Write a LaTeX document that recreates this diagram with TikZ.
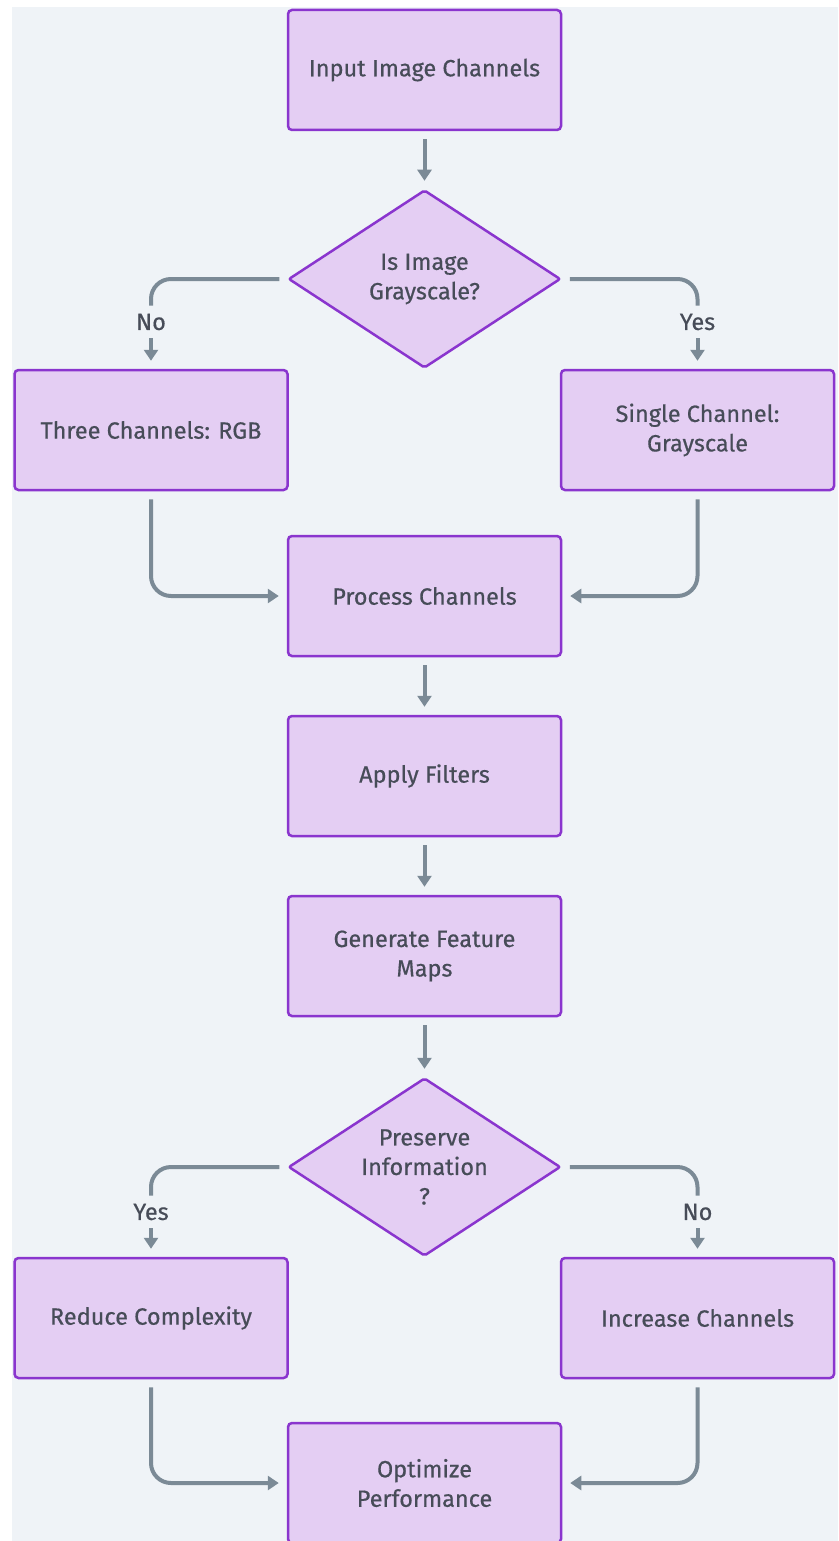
\documentclass[tikz,border=0pt]{standalone}
\usepackage{fontspec}
\setmainfont{Fira Sans}[FakeBold=0.5]
\usetikzlibrary{shapes.geometric,arrows.meta}
\definecolor{bgpanel}{HTML}{EFF3F7}
\definecolor{boxfill}{HTML}{E4CEF3}
\definecolor{boxline}{HTML}{8A35CE}
\definecolor{flowgray}{HTML}{7B8A96}
\definecolor{textgray}{HTML}{474C58}
\begin{document}
\begin{tikzpicture}[x=1pt, y=-1pt,
    every node/.style={font=\fontsize{23.5}{29.5}\selectfont, text=textgray},
    stepbox/.style={draw=boxline, fill=boxfill, line width=2.5pt, rounded corners=4pt,
        minimum width=273pt, minimum height=120pt, align=center, inner sep=0pt},
    choice/.style={diamond, draw=boxline, fill=boxfill, line width=2.5pt, rounded corners=2pt,
        aspect=1.53, minimum width=272pt, minimum height=178pt, align=center, inner sep=0pt},
    flow/.style={draw=flowgray, line width=4pt, rounded corners=20pt,
        -{Triangle[width=14pt,length=11pt]}, shorten <=8pt, shorten >=8pt},
    wire/.style={flow, -},
    answer/.style={inner sep=0pt}]
    \useasboundingbox (0,0) rectangle (838,1541);
    \fill[bgpanel] (12,7) rectangle (838,1541);
    % steps and choices
    \node[stepbox] (input) at (424.5,70) {Input Image Channels};
    \node[choice] (isgray) at (424.5,279) {Is Image\\Grayscale?};
    \node[stepbox] (rgb) at (151,430) {Three Channels: RGB};
    \node[stepbox] (single) at (697.5,430) {Single Channel:\\Grayscale};
    \node[stepbox] (process) at (424.5,596) {Process Channels};
    \node[stepbox] (filters) at (424.5,776) {Apply Filters};
    \node[stepbox] (maps) at (424.5,956) {Generate Feature\\Maps};
    \node[choice] (preserve) at (424.5,1167) {Preserve\\Information\\?};
    \node[stepbox] (reduce) at (151,1318) {Reduce Complexity};
    \node[stepbox] (increase) at (697.5,1318) {Increase Channels};
    \node[stepbox] (optimize) at (424.5,1483) {Optimize\\Performance};
    % branch labels
    \node[answer] (gray-no) at (151,322) {No};
    \node[answer] (gray-yes) at (697.5,322) {Yes};
    \node[answer] (keep-yes) at (151,1212) {Yes};
    \node[answer] (keep-no) at (697.5,1212) {No};
    % straight steps
    \foreach \from/\to in {input/isgray, process/filters, filters/maps, maps/preserve}
        \draw[flow] (\from) -- (\to);
    % branches out of the choices
    \draw[wire] (isgray.west) -| (gray-no.north);
    \draw[flow] (gray-no.south) -- (rgb.north);
    \draw[wire] (isgray.east) -| (gray-yes.north);
    \draw[flow] (gray-yes.south) -- (single.north);
    \draw[wire] (preserve.west) -| (keep-yes.north);
    \draw[flow] (keep-yes.south) -- (reduce.north);
    \draw[wire] (preserve.east) -| (keep-no.north);
    \draw[flow] (keep-no.south) -- (increase.north);
    % merging back
    \draw[flow] (rgb.south) |- (process.west);
    \draw[flow] (single.south) |- (process.east);
    \draw[flow] (reduce.south) |- (optimize.west);
    \draw[flow] (increase.south) |- (optimize.east);
\end{tikzpicture}
\end{document}
